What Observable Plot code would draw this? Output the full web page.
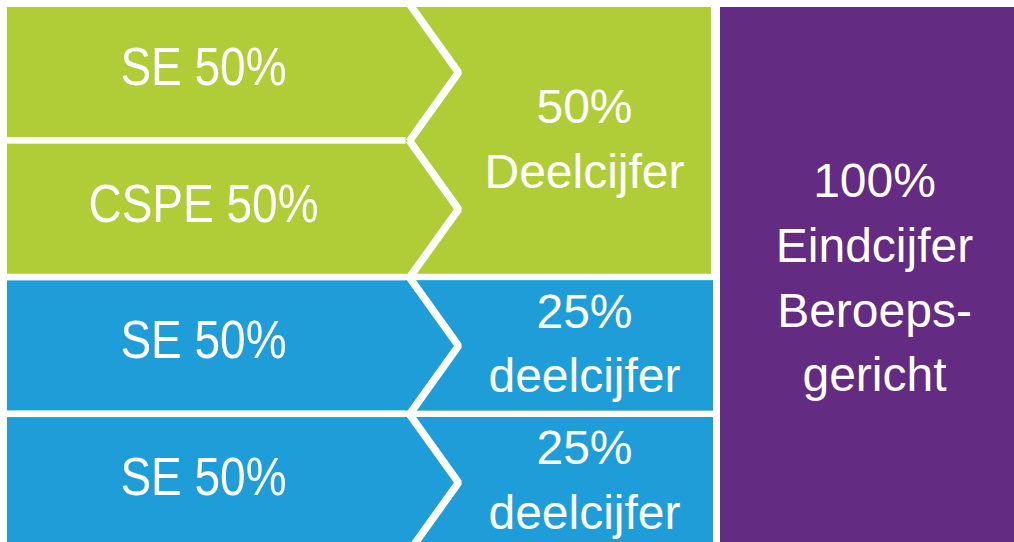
<!DOCTYPE html>
<html>
<head>
<meta charset="utf-8">
<script src="https://cdn.jsdelivr.net/npm/d3@7"></script>
<script src="https://cdn.jsdelivr.net/npm/@observablehq/plot@0.6"></script>
<style>
  html, body { margin: 0; padding: 0; background: #ffffff; overflow: hidden; }
  #chart { width: 1014px; height: 542px; }
</style>
</head>
<body>
<div id="chart"></div>
<script>
// ---- data ----
const inputLabels = ["SE 50%", "CSPE 50%", "SE 50%", "SE 50%"];
const inputGroups = ["green", "green", "blue", "blue"];
const partialLabels = ["50%\nDeelcijfer", "25%\ndeelcijfer", "25%\ndeelcijfer"];
const partialRows = [[0, 2], [2, 3], [3, 4]];
const partialGroups = ["green", "blue", "blue"];
const finalLabel = "100%\nEindcijfer\nBeroeps-\ngericht";

// ---- styling / layout ----
const colors = {green: "#b0cd38", blue: "#1e9dd9", purple: "#632b81"};
const font = "'Liberation Sans', Arial, Helvetica, sans-serif";
const rowFill = 0.951;     // fraction of a row filled (rest is white gap)
const leftX1 = 7, notchX = 408.5, tipX = 458;
const midX2 = 712, finalX1 = 720, finalX2 = 1014;

const leftRects = inputLabels.map((t, i) => ({
  x1: leftX1, x2: inputGroups[i] === "green" ? notchX + 3 : midX2 + 1,
  y1: i, y2: i + rowFill, fill: colors[inputGroups[i]]
}));
const midRects = partialLabels.map((t, i) => ({
  x1: notchX - 3, x2: partialGroups[i] === "green" ? midX2 - 1 : midX2 + 1,
  y1: partialRows[i][0], y2: partialRows[i][1] - (1 - rowFill), fill: colors[partialGroups[i]]
}));
const finalRect = [{x1: finalX1, x2: finalX2, y1: 0, y2: 4.2, fill: colors.purple}];

const chevrons = inputLabels.flatMap((t, i) => [
  {row: i, x: notchX, y: i - 0.03},
  {row: i, x: tipX, y: i + rowFill / 2},
  {row: i, x: notchX, y: i + rowFill + 0.03}
]);

const inputText = inputLabels.map((t, i) => ({t, x: 203, y: i + 0.443}));
const partialText = partialLabels.map((t, i) => ({
  t, x: 584,
  y: partialGroups[i] === "green" ? 0.933 : partialRows[i][0] + 0.427
}));
const finalText = [{t: finalLabel, x: 874, y: 1.946}];

const plot = Plot.plot({
  width: 1014,
  height: 542,
  margin: 0,
  style: {background: "#ffffff"},
  x: {domain: [0, 1014], range: [0, 1014], axis: null},
  y: {domain: [0, 4], range: [7, 7 + 4 * 136.7], axis: null},
  marks: [
    Plot.rect(leftRects, {x1: "x1", x2: "x2", y1: "y1", y2: "y2", fill: d => d.fill}),
    Plot.rect(midRects, {x1: "x1", x2: "x2", y1: "y1", y2: "y2", fill: d => d.fill}),
    Plot.rect(finalRect, {x1: "x1", x2: "x2", y1: "y1", y2: "y2", fill: d => d.fill}),
    Plot.line(chevrons, {x: "x", y: "y", z: "row", stroke: "#ffffff", strokeWidth: 7.5, strokeLinejoin: "miter", strokeLinecap: "butt"}),
    Plot.text(inputText, {x: "x", y: "y", text: "t", fill: "#ffffff", fontSize: 46, fontFamily: font}),
    Plot.text(partialText, {x: "x", y: "y", text: "t", fill: "#ffffff", fontSize: 48, lineHeight: 1.35, fontFamily: font}),
    Plot.text(finalText, {x: "x", y: "y", text: "t", fill: "#ffffff", fontSize: 48, lineHeight: 1.35, fontFamily: font})
  ]
});
document.getElementById("chart").appendChild(plot);
// the left labels are drawn slightly taller than wide in the reference
plot.querySelectorAll('g[font-size="46"] text').forEach(t => {
  t.setAttribute("transform", (t.getAttribute("transform") || "") + " scale(1,1.15)");
});
</script>
</body>
</html>
